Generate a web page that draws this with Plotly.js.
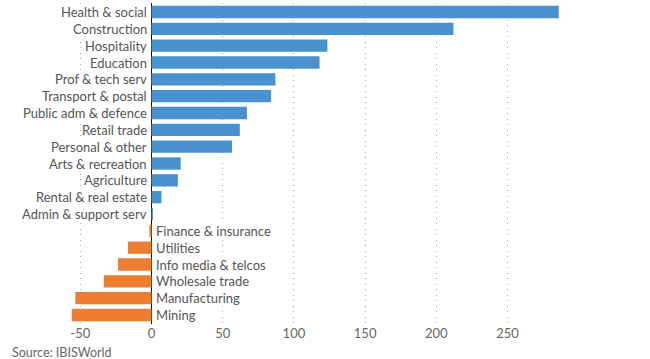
<!DOCTYPE html>
<html>
<head>
<meta charset="utf-8">
<script src="https://cdn.plot.ly/plotly-3.0.1.min.js"></script>
<style>html,body{margin:0;padding:0;background:#fff;}#chart{width:650px;height:359px;}</style>
</head>
<body>
<div id="chart"></div>
<script>
const categories = ["Health & social","Construction","Hospitality","Education","Prof & tech serv","Transport & postal","Public adm & defence","Retail trade","Personal & other","Arts & recreation","Agriculture","Rental & real estate","Admin & support serv","Finance & insurance","Utilities","Info media & telcos","Wholesale trade","Manufacturing","Mining"];
const values = [286, 212, 123.5, 118, 87, 84, 67, 62, 56.5, 20.5, 18.5, 7, 1, -1.5, -16.5, -23.5, -33.5, -53.5, -56];
const tickVals = [-50, 0, 50, 100, 150, 200, 250];
const sourceText = "Source: IBISWorld";

const blue = "rgb(74,145,208)";
const orange = "rgb(237,125,49)";
const textColor = "#555555";
const font = "Lato, 'Open Sans', sans-serif";

const trace = {
  type: "bar",
  orientation: "h",
  x: values,
  y: categories,
  marker: {color: values.map(v => v >= 0 ? blue : orange), line: {width: 0}},
  hoverinfo: "skip"
};

const annotations = categories.map((c, i) => ({
  x: 0, y: c, xref: "x", yref: "y",
  text: c, showarrow: false,
  xanchor: values[i] >= 0 ? "right" : "left",
  xshift: values[i] >= 0 ? -3.5 : 3.5,
  bgcolor: "#ffffff", borderpad: 0,
  font: {family: font, size: 13, color: textColor}
}));
annotations.push({
  xref: "paper", yref: "paper",
  xanchor: "left", yanchor: "middle",
  x: (10 - 20) / 610, y: -(352.5 - 324) / 321,
  text: sourceText, showarrow: false,
  font: {family: font, size: 12.5, color: "#666666"}
});

const layout = {
  width: 650, height: 359,
  margin: {l: 20, r: 20, t: 3, b: 35},
  paper_bgcolor: "#ffffff", plot_bgcolor: "#ffffff",
  showlegend: false,
  bargap: 0.27,
  xaxis: {
    range: [-92.35, 336.0],
    tickvals: tickVals,
    ticktext: tickVals.map(String),
    showgrid: true, gridcolor: "#a5a5a5", gridwidth: 1, griddash: "1px,4.5px",
    zeroline: true, zerolinecolor: "#111111", zerolinewidth: 1.5,
    showline: false, ticks: "",
    tickfont: {family: font, size: 13, color: "#666666"},
    fixedrange: true
  },
  yaxis: {
    type: "category",
    categoryorder: "array", categoryarray: categories,
    autorange: "reversed",
    showticklabels: false, showgrid: false, zeroline: false, ticks: "",
    fixedrange: true
  },
  annotations: annotations
};

Plotly.newPlot("chart", [trace], layout, {staticPlot: true, displayModeBar: false});
</script>
</body>
</html>
